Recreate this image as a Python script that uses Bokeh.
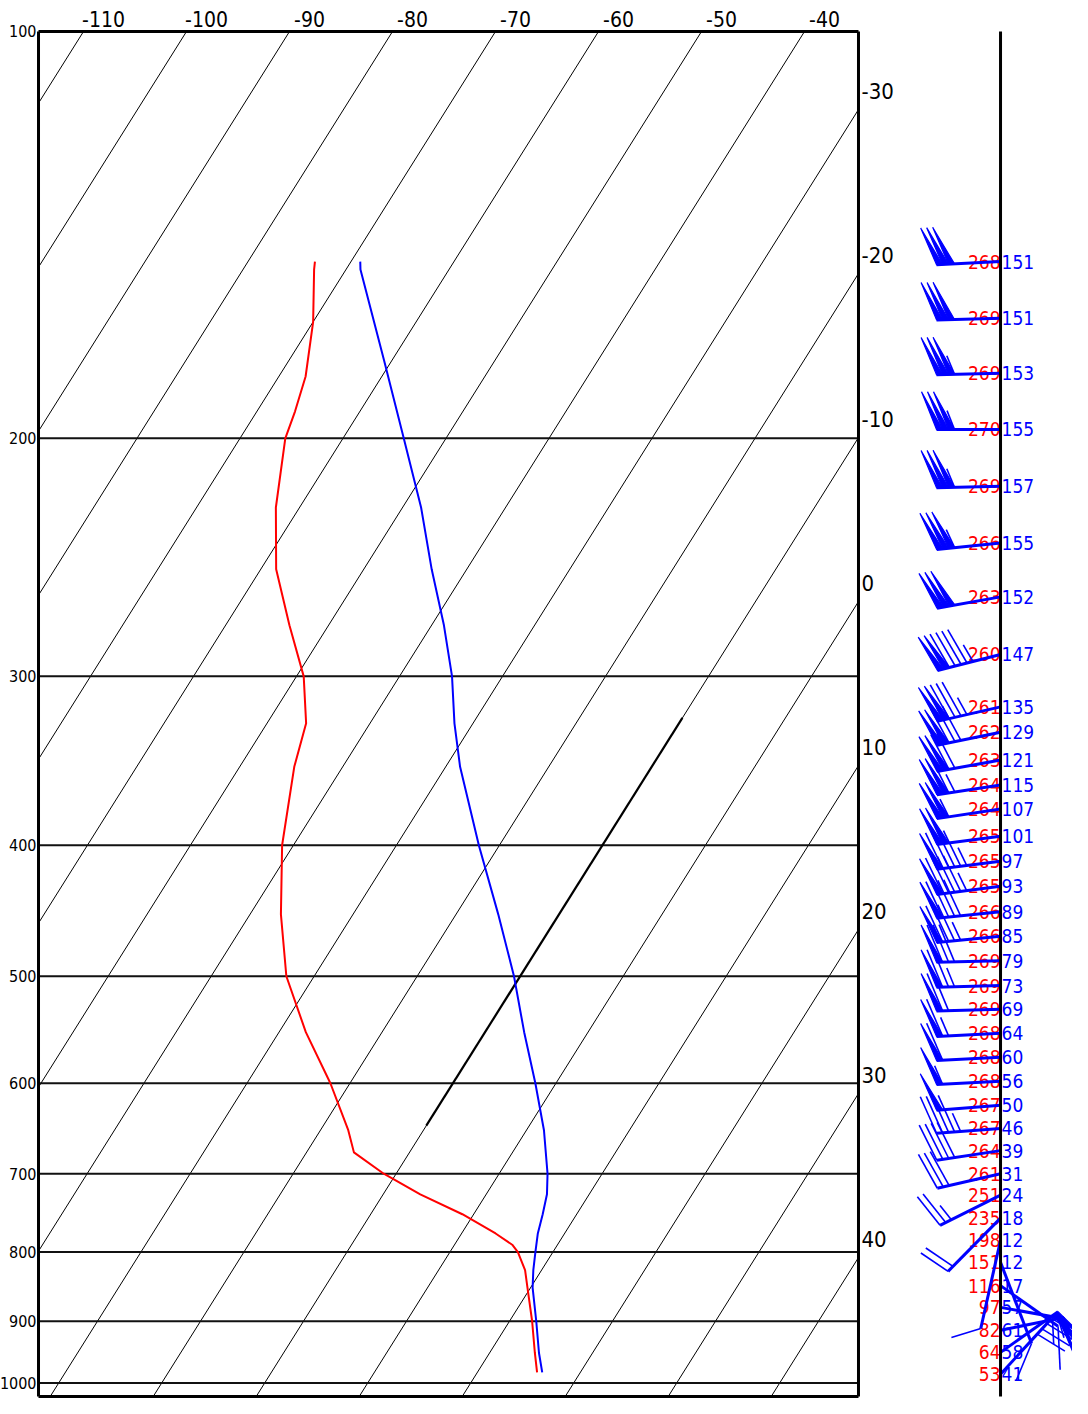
import numpy as np
from bokeh.plotting import figure
from bokeh.models import Range1d
from bokeh.core.properties import value
from bokeh.embed import file_html
from bokeh.resources import INLINE

# ---------------- data ----------------
isobar_levels = [100, 200, 300, 400, 500, 600, 700, 800, 900, 1000]
isotherm_temps = list(range(-120, 60, 10))
top_tick_temps = [-110, -100, -90, -80, -70, -60, -50, -40]
right_tick_temps = [-30, -20, -10, 0, 10, 20, 30, 40]

# red profile
red_p = [148, 150, 164, 180, 191, 200, 225, 250, 275, 300, 325, 350, 400, 450, 500, 550,
         600, 650, 675, 700, 725, 750, 775, 790, 800, 825, 850, 900, 950, 982]
red_t = [-73.5, -73.1, -70.0, -67.4, -66.3, -65.6, -62.3, -58.5, -53.8, -49.3, -46.2, -44.7,
         -41.1, -37.0, -32.7, -27.4, -21.9, -17.3, -15.4, -11.2, -6.4, -1.1,
         3.3, 5.6, 6.6, 8.4, 9.7, 12.2, 14.4, 15.8]
# blue profile
blue_p = [148, 150, 175, 200, 225, 250, 275, 300, 325, 350, 400, 450, 500, 550,
          600, 650, 700, 725, 750, 775, 800, 825, 850, 900, 950, 982]
blue_t = [-69.1, -68.6, -60.8, -54.1, -48.2, -43.4, -38.8, -34.9, -31.8, -28.6,
          -22.0, -15.9, -10.6, -6.2, -2.0, 1.7, 4.7, 5.9, 6.7, 7.4, 8.3, 9.2,
          10.2, 12.6, 14.8, 16.3]
# bold black segment
seg_t = [-10, -10]
seg_p = [645, 322]

# wind column
wind_p = [148, 163, 179, 197, 217, 239, 262, 289, 316, 330, 346, 361, 376, 394,
          411, 429, 448, 467, 487, 508, 529, 551, 574, 598, 623, 648, 673, 700,
          726, 755, 784, 814, 847, 879, 914, 949, 985]
wind_dir = [268, 269, 269, 270, 269, 266, 263, 260, 261, 262, 263, 264, 264, 265,
            265, 265, 266, 266, 269, 269, 269, 268, 268, 268, 267, 267, 264, 261,
            251, 235, 198, 151, 116, 97, 82, 64, 53]
wind_spd = [151, 151, 153, 155, 157, 155, 152, 147, 135, 129, 121, 115, 107, 101,
            97, 93, 89, 85, 79, 73, 69, 64, 60, 56, 50, 46, 39, 31, 24, 18, 12, 12,
            17, 57, 61, 58, 41]

# ---------------- geometry ----------------
W, H = 1072, 1398
PX_PER_DEG = 10.3          # horizontal pixels per degree
PX_PER_LN = 587.0          # vertical pixels per unit ln(p)
SKEW = PX_PER_LN / 16.4    # degrees of skew per unit ln(p)
x_start = -118.06
x_end = x_start + W / PX_PER_DEG
p_top = 94.86
p_bottom = p_top * np.exp(H / PX_PER_LN)

X_LEFT = -114.37
X_RIGHT = -34.76
X_STAFF = -20.97
P_FRAME_TOP = 100.0
P_FRAME_BOT = p_top * np.exp((H - 2) / PX_PER_LN)


def skew_x(t, pr):
    return np.asarray(t, dtype=float) - SKEW * np.log(np.asarray(pr, dtype=float) / 100.0)


FONT = value("DejaVu Sans Condensed, Liberation Sans, sans-serif")

p = figure(width=W, height=H, x_range=Range1d(x_start, x_end),
           y_range=Range1d(p_bottom, p_top), y_axis_type="log",
           x_axis_location=None, y_axis_location=None,
           toolbar_location=None, output_backend="svg", min_border=0,
           outline_line_color=None, background_fill_color="white",
           border_fill_color="white")
p.grid.visible = False

# isotherms
iso_xs, iso_ys = [], []
for T in isotherm_temps:
    pa = max(P_FRAME_TOP, 100 * np.exp((T - X_RIGHT) / SKEW))
    pb = min(P_FRAME_BOT, 100 * np.exp((T - X_LEFT) / SKEW))
    if pa < pb:
        iso_xs.append(list(skew_x([T, T], [pa, pb])))
        iso_ys.append([pa, pb])
p.multi_line(iso_xs, iso_ys, line_color="black", line_width=1)

# isobars
bar_xs = [[X_LEFT, X_RIGHT] for lev in isobar_levels[1:]]
bar_ys = [[lev, lev] for lev in isobar_levels[1:]]
p.multi_line(bar_xs, bar_ys, line_color="#111111", line_width=2)

# bold segment
p.line(skew_x(seg_t, seg_p), seg_p, line_color="black", line_width=2.2)

# profiles
p.line(skew_x(red_t, red_p), red_p, line_color="#ff0000", line_width=2)
p.line(skew_x(blue_t, blue_p), blue_p, line_color="#0000ff", line_width=2)

# frame
fx = [[X_LEFT, X_RIGHT], [X_LEFT, X_LEFT], [X_RIGHT, X_RIGHT], [X_LEFT, X_RIGHT]]
fy = [[P_FRAME_TOP, P_FRAME_TOP], [P_FRAME_TOP, P_FRAME_BOT],
      [P_FRAME_TOP, P_FRAME_BOT], [P_FRAME_BOT, P_FRAME_BOT]]
p.multi_line(fx, fy, line_color="black", line_width=3)

# top labels
p.text(x=top_tick_temps, y=[P_FRAME_TOP] * len(top_tick_temps),
       text=[str(t) for t in top_tick_temps], text_font=FONT,
       text_font_size="21px", text_align="center", text_baseline="bottom",
       x_offset=20, y_offset=-4, text_color="black")

# left labels
p.text(x=[X_LEFT] * len(isobar_levels), y=isobar_levels,
       text=[str(v) for v in isobar_levels], text_font=FONT,
       text_font_size="16px", text_align="right", text_baseline="middle",
       x_offset=-2, text_color="black")

# right labels (isotherm / right edge crossings)
rp = [100 * np.exp((t - X_RIGHT) / SKEW) for t in right_tick_temps]
p.text(x=[X_RIGHT] * len(rp), y=rp, text=[str(t) for t in right_tick_temps],
       text_font=FONT, text_font_size="22px", text_align="left",
       text_baseline="bottom", x_offset=3, y_offset=-11, text_color="black")

# wind labels
p.text(x=[X_STAFF] * len(wind_p), y=wind_p, text=[str(d) for d in wind_dir],
       text_font=FONT, text_font_size="19px", text_align="right",
       text_baseline="middle", x_offset=0, text_color="#ff0000")
p.text(x=[X_STAFF] * len(wind_p), y=wind_p, text=[str(s) for s in wind_spd],
       text_font=FONT, text_font_size="19px", text_align="left",
       text_baseline="middle", x_offset=1, text_color="#0000ff")

# wind barbs (pixel geometry -> data units)
STRETCH = 1.45
SHAFT = 64.0
FEATHER = 30.0
STEP = 6.0
ANG = np.radians(60)


def to_data(p0, dx, dy):
    return X_STAFF + dx / PX_PER_DEG, p0 * np.exp(dy / PX_PER_LN)


shaft_xs, shaft_ys, fe_xs, fe_ys, pen_xs, pen_ys = [], [], [], [], [], []
for p0, d, spd in zip(wind_p, wind_dir, wind_spd):
    th = np.radians(d)
    su, sv = np.sin(th), np.cos(th)
    fu = su * np.cos(ANG) + sv * np.sin(ANG)
    fv = -su * np.sin(ANG) + sv * np.cos(ANG)

    def scr(u, v):
        return u, -v * STRETCH

    tip = (SHAFT * su, SHAFT * sv)
    a = to_data(p0, *scr(0, 0))
    b = to_data(p0, *scr(*tip))
    shaft_xs.append([a[0], b[0]])
    shaft_ys.append([a[1], b[1]])

    def pos(k):
        return (tip[0] - k * STEP * su, tip[1] - k * STEP * sv)

    r = int(5 * round(spd / 5.0))
    n50, r = divmod(r, 50)
    n10, r = divmod(r, 10)
    n5 = 1 if r >= 5 else 0
    k = 0
    for _ in range(n50):
        q0 = pos(k)
        q1 = pos(k + 1)
        ap = (q0[0] + FEATHER * fu, q0[1] + FEATHER * fv)
        pts = [to_data(p0, *scr(*q)) for q in (q0, ap, q1)]
        pen_xs.append([q[0] for q in pts])
        pen_ys.append([q[1] for q in pts])
        k += 1
    for _ in range(n10):
        q0 = pos(k)
        e = (q0[0] + FEATHER * fu, q0[1] + FEATHER * fv)
        s0 = to_data(p0, *scr(*q0))
        s1 = to_data(p0, *scr(*e))
        fe_xs.append([s0[0], s1[0]])
        fe_ys.append([s0[1], s1[1]])
        k += 1
    if n5:
        if n50 == 0 and n10 == 0:
            k = 1
        q0 = pos(k)
        e = (q0[0] + 0.5 * FEATHER * fu, q0[1] + 0.5 * FEATHER * fv)
        s0 = to_data(p0, *scr(*q0))
        s1 = to_data(p0, *scr(*e))
        fe_xs.append([s0[0], s1[0]])
        fe_ys.append([s0[1], s1[1]])

p.patches(pen_xs, pen_ys, fill_color="#0000ff", line_color="#0000ff", line_width=1.2)
p.multi_line(fe_xs, fe_ys, line_color="#0000ff", line_width=1.6)
p.multi_line(shaft_xs, shaft_ys, line_color="#0000ff", line_width=3)

# staff
p.line([X_STAFF, X_STAFF], [P_FRAME_TOP, P_FRAME_BOT], line_color="black", line_width=3)

open("out.html", "w").write(file_html(p, INLINE))
